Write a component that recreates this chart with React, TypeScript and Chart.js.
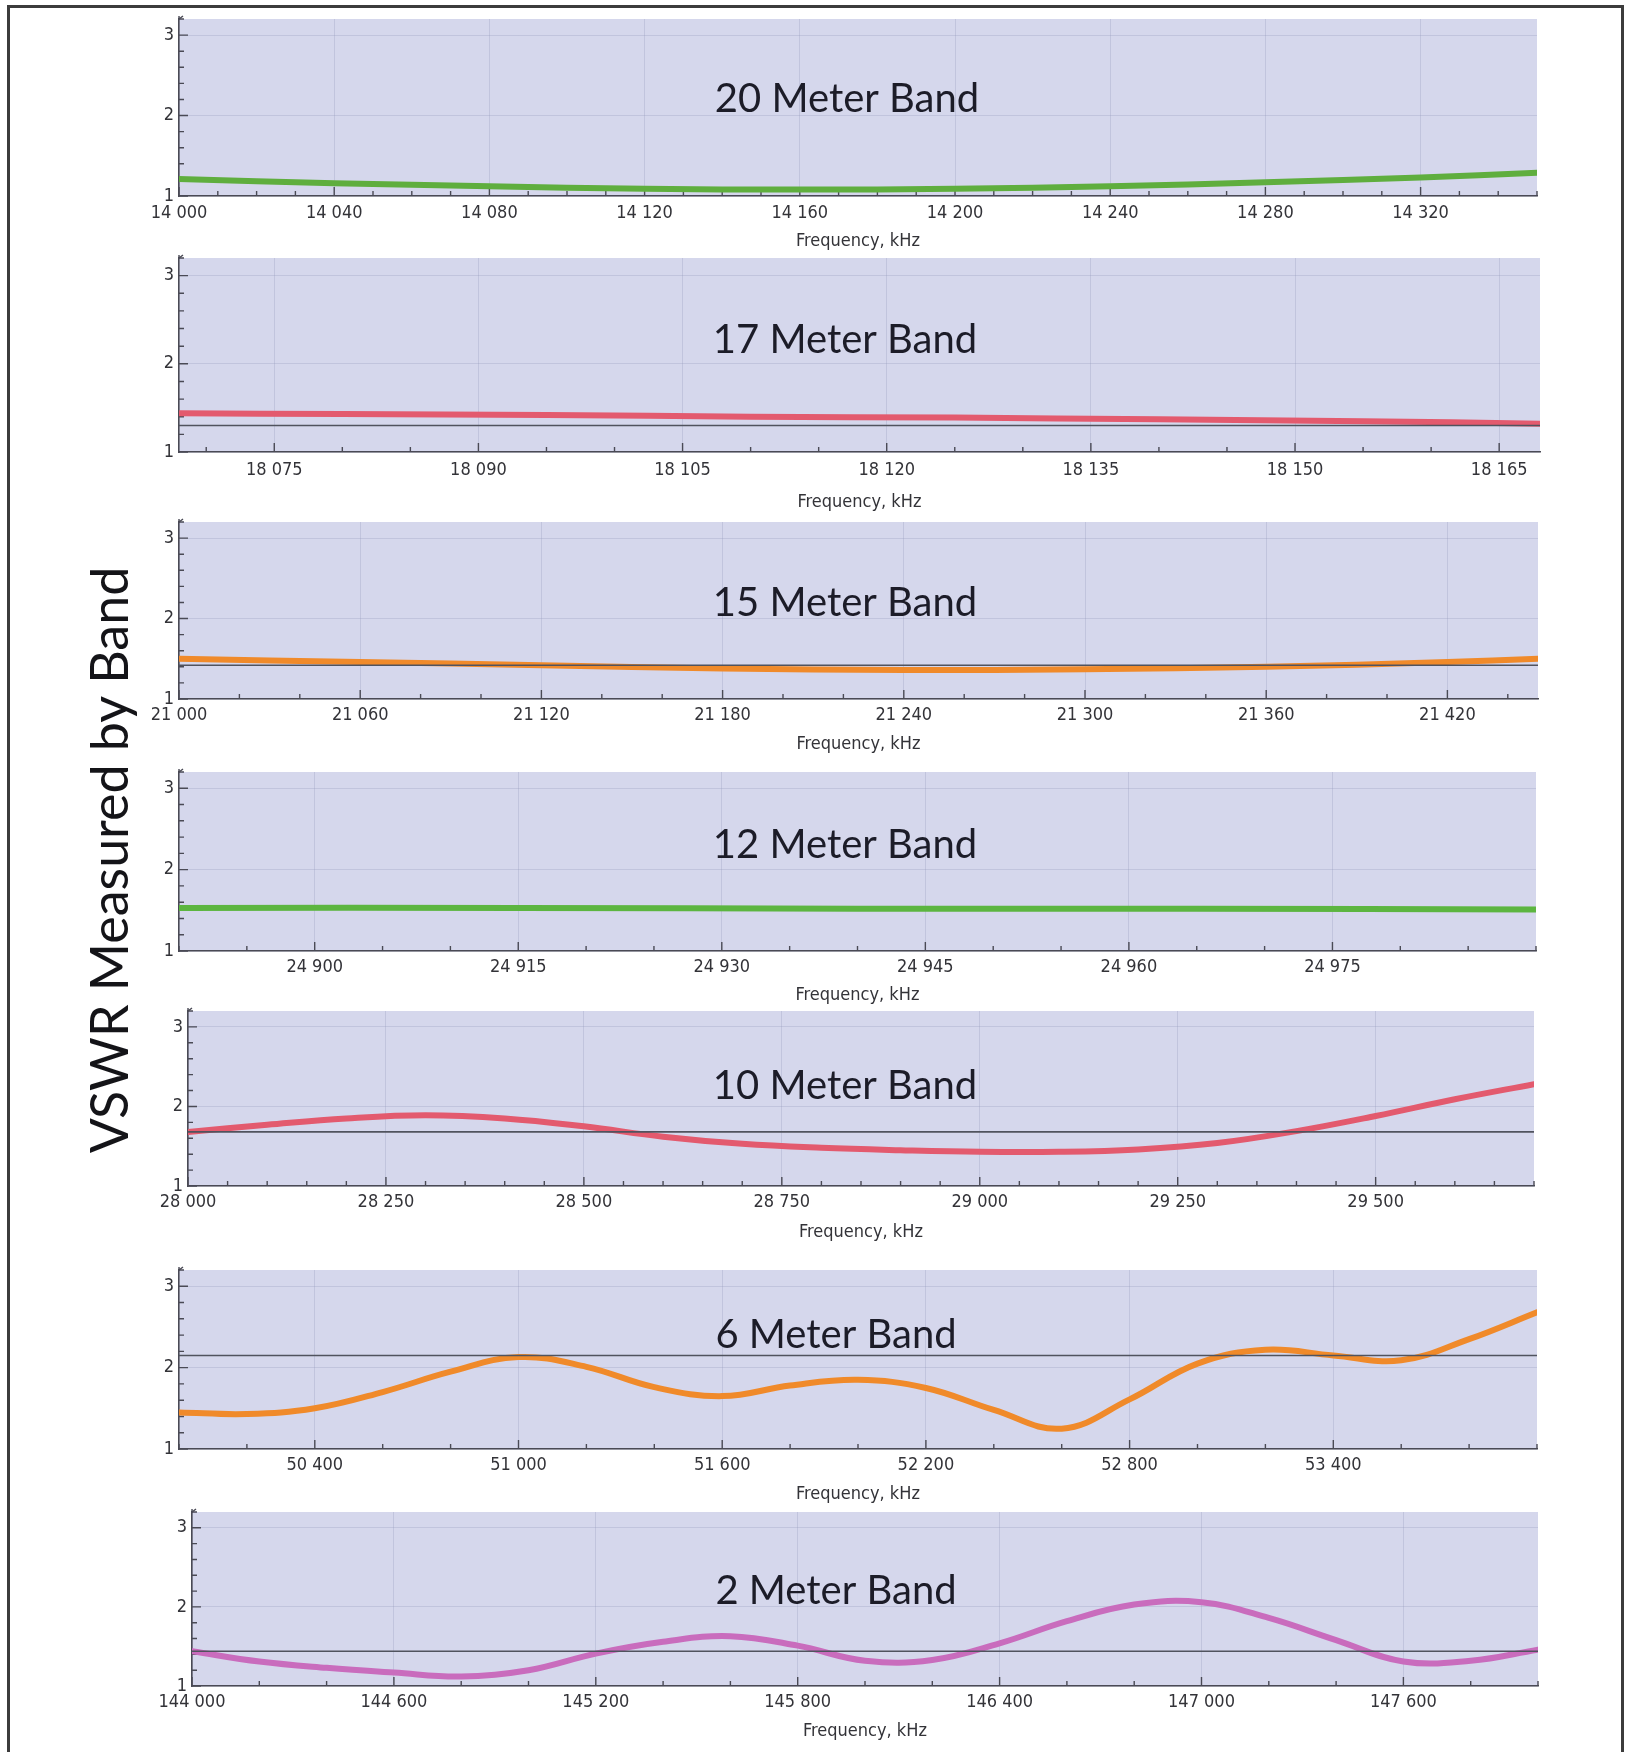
import React, { useEffect, useRef } from "react";
import { Chart, registerables } from "chart.js";

Chart.register(...registerables);

// ---------------- DATA ----------------
const BAND_TITLES = [
  "20 Meter Band",
  "17 Meter Band",
  "15 Meter Band",
  "12 Meter Band",
  "10 Meter Band",
  "6 Meter Band",
  "2 Meter Band",
];

const FREQ_20M = [14000, 14040, 14080, 14120, 14160, 14200, 14240, 14280, 14320, 14350];
const VSWR_20M = [1.21, 1.16, 1.12, 1.09, 1.08, 1.09, 1.12, 1.17, 1.23, 1.29];
const XTICKS_20M = [14000, 14040, 14080, 14120, 14160, 14200, 14240, 14280, 14320];

const FREQ_17M = [18068, 18080, 18095, 18110, 18125, 18140, 18155, 18168];
const VSWR_17M = [1.44, 1.43, 1.42, 1.4, 1.39, 1.37, 1.35, 1.32];
const XTICKS_17M = [18075, 18090, 18105, 18120, 18135, 18150, 18165];

const FREQ_15M = [21000, 21060, 21120, 21180, 21240, 21300, 21360, 21420, 21450];
const VSWR_15M = [1.5, 1.46, 1.42, 1.38, 1.36, 1.37, 1.4, 1.46, 1.5];
const XTICKS_15M = [21000, 21060, 21120, 21180, 21240, 21300, 21360, 21420];

const FREQ_12M = [24890, 24915, 24940, 24965, 24990];
const VSWR_12M = [1.53, 1.53, 1.52, 1.52, 1.51];
const XTICKS_12M = [24900, 24915, 24930, 24945, 24960, 24975];

const FREQ_10M = [28000, 28100, 28200, 28300, 28400, 28500, 28600, 28700, 28800, 28900, 29000, 29100, 29200, 29300, 29400, 29500, 29600, 29700];
const VSWR_10M = [1.68, 1.77, 1.85, 1.89, 1.85, 1.75, 1.62, 1.53, 1.48, 1.45, 1.43, 1.43, 1.46, 1.54, 1.69, 1.88, 2.09, 2.28];
const XTICKS_10M = [28000, 28250, 28500, 28750, 29000, 29250, 29500];

const FREQ_6M = [50000, 50200, 50400, 50600, 50800, 51000, 51200, 51400, 51600, 51800, 52000, 52200, 52400, 52600, 52800, 53000, 53200, 53400, 53600, 53800, 54000];
const VSWR_6M = [1.45, 1.43, 1.5, 1.7, 1.95, 2.13, 2.01, 1.76, 1.65, 1.78, 1.85, 1.75, 1.48, 1.25, 1.61, 2.05, 2.22, 2.15, 2.09, 2.35, 2.68];
const XTICKS_6M = [50400, 51000, 51600, 52200, 52800, 53400];

const FREQ_2M = [144000, 144200, 144400, 144600, 144800, 145000, 145200, 145400, 145600, 145800, 146000, 146200, 146400, 146600, 146800, 147000, 147200, 147400, 147600, 147800, 148000];
const VSWR_2M = [1.44, 1.31, 1.23, 1.17, 1.12, 1.2, 1.41, 1.56, 1.63, 1.51, 1.32, 1.33, 1.54, 1.82, 2.03, 2.06, 1.86, 1.58, 1.31, 1.32, 1.46];
const XTICKS_2M = [144000, 144600, 145200, 145800, 146400, 147000, 147600];

const X_MIN = [14000, 18068, 21000, 24890, 28000, 50000, 144000];
const X_MAX = [14350, 18168, 21450, 24990, 29700, 54000, 148000];
const MINOR_STEP = [10, 5, 20, 5, 50, 200, 200];
const REF_LEVEL: (number | null)[] = [null, 1.3, 1.42, null, 1.68, 2.15, 1.44];

const Y_TICKS = [1, 2, 3];
const Y_MIN = 1;
const Y_MAX = 3.2;
const Y_MINOR_STEP = 0.2;

const FREQS = [FREQ_20M, FREQ_17M, FREQ_15M, FREQ_12M, FREQ_10M, FREQ_6M, FREQ_2M];
const VSWRS = [VSWR_20M, VSWR_17M, VSWR_15M, VSWR_12M, VSWR_10M, VSWR_6M, VSWR_2M];
const XTICKS = [XTICKS_20M, XTICKS_17M, XTICKS_15M, XTICKS_12M, XTICKS_10M, XTICKS_6M, XTICKS_2M];

// ---------------- STYLE / LAYOUT ----------------
const COLORS = ["#5fae3e", "#e35a6e", "#f08a2a", "#5cb540", "#e35a6e", "#f08a2a", "#c96cbd"];

const PLOT_LEFT = [179, 179, 179, 179, 188, 179, 192];
const PLOT_RIGHT = [1537, 1540, 1538, 1536, 1534, 1537, 1538];
const PLOT_TOP = [19, 258, 522, 772, 1011, 1270, 1512];
const PLOT_BOTTOM = [196, 452, 699, 951, 1186, 1449, 1686];
const TITLE_X = [847, 845, 845, 845, 845, 836, 836];
const TITLE_Y = [99, 340, 603, 845, 1086, 1335, 1591];
const XTITLE_OFFSET = [45, 50, 45, 44, 46, 45, 45];
const XLABEL_PAD = [7, 8, 6, 6, 6, 6, 6];

const PAGE_W = 1630;
const PAD_T = 20;
const XH = 72;
const YW = 40;
const BG = "#d5d7ec";
const AXIS = "#4a4a55";
const GRID = "rgba(150,152,185,0.3)";
const TEXT = "#333338";
const SMALL_FONT = "'DejaVu Sans Condensed', 'DejaVu Sans', sans-serif";

function fmt(v: number) {
  return Math.round(v)
    .toString()
    .replace(/\B(?=(\d{3})+(?!\d))/g, " ");
}

function Panel({ i }: { i: number }) {
  const ref = useRef<HTMLCanvasElement | null>(null);
  const canvasTop = PLOT_TOP[i] - PAD_T;
  const canvasH = PLOT_BOTTOM[i] - PLOT_TOP[i] + PAD_T + XH;

  useEffect(() => {
    const canvas = ref.current;
    if (!canvas) return;
    const xMin = X_MIN[i];
    const xMax = X_MAX[i];
    const curve = FREQS[i].map((x, k) => ({ x, y: VSWRS[i][k] }));
    const datasets: any[] = [];
    const refLevel = REF_LEVEL[i];
    if (refLevel !== null) {
      datasets.push({
        data: [
          { x: xMin, y: refLevel },
          { x: xMax, y: refLevel },
        ],
        borderColor: "#50535e",
        borderWidth: 1.6,
        pointRadius: 0,
        tension: 0,
      });
    }
    datasets.push({
      data: curve,
      borderColor: COLORS[i],
      borderWidth: 6,
      pointRadius: 0,
      tension: 0.4,
      borderCapStyle: "round",
      borderJoinStyle: "round",
    });

    const decor = {
      id: "decor" + i,
      beforeDraw(chart: any) {
        const { ctx, chartArea: a } = chart;
        ctx.save();
        ctx.fillStyle = BG;
        ctx.fillRect(a.left, a.top, a.right - a.left, a.bottom - a.top);
        ctx.restore();
      },
      beforeDatasetsDraw(chart: any) {
        const { ctx, chartArea: a } = chart;
        const xs = chart.scales.x;
        const ys = chart.scales.y;
        ctx.save();
        ctx.strokeStyle = AXIS;
        ctx.lineWidth = 1.4;
        const majors = XTICKS[i];
        const step = MINOR_STEP[i];
        const base = majors[0];
        const start = base - Math.floor((base - xMin) / step) * step;
        ctx.beginPath();
        for (let v = start; v <= xMax + 1e-6; v += step) {
          const px = xs.getPixelForValue(v);
          const isMajor = majors.some((m) => Math.abs(m - v) < 1e-6);
          const len = isMajor ? 9 : 5;
          ctx.moveTo(px, a.bottom);
          ctx.lineTo(px, a.bottom - len);
        }
        for (let v = Y_MIN; v <= Y_MAX + 1e-6; v += Y_MINOR_STEP) {
          const py = ys.getPixelForValue(v);
          const isMajor = Y_TICKS.some((m) => Math.abs(m - v) < 1e-6);
          const len = isMajor ? 9 : 5;
          ctx.moveTo(a.left, py);
          ctx.lineTo(a.left + len, py);
        }
        ctx.stroke();
        ctx.beginPath();
        ctx.moveTo(a.left, a.top - 3);
        ctx.lineTo(a.left, a.top);
        ctx.lineTo(a.left + 4, a.top - 3);
        ctx.stroke();
        ctx.fillStyle = "#1c1c28";
        ctx.font = "40px Lato, 'Open Sans', sans-serif";
        ctx.textAlign = "center";
        ctx.textBaseline = "middle";
        ctx.fillText(BAND_TITLES[i], TITLE_X[i], TITLE_Y[i] - canvasTop);
        ctx.restore();
      },
    };

    const chart = new Chart(canvas, {
      type: "line",
      data: { datasets },
      plugins: [decor],
      options: {
        responsive: false,
        animation: false,
        devicePixelRatio: 1,
        events: [],
        layout: {
          padding: {
            left: PLOT_LEFT[i] - YW,
            right: PAGE_W - PLOT_RIGHT[i],
            top: PAD_T,
            bottom: 0,
          },
        },
        plugins: {
          legend: { display: false },
          tooltip: { enabled: false },
        },
        scales: {
          x: {
            type: "linear",
            min: xMin,
            max: xMax,
            afterBuildTicks: (s: any) => {
              s.ticks = XTICKS[i].map((v) => ({ value: v }));
            },
            afterFit: (s: any) => {
              s.height = XH;
            },
            grid: { color: GRID, lineWidth: 1, drawTicks: false },
            border: { display: true, color: AXIS, width: 1.6 },
            ticks: {
              autoSkip: false,
              maxRotation: 0,
              minRotation: 0,
              padding: XLABEL_PAD[i],
              color: TEXT,
              font: { family: SMALL_FONT, size: 18 },
              callback: (v: any) => fmt(Number(v)),
            },
            title: {
              display: true,
              text: "Frequency, kHz",
              color: TEXT,
              font: { family: SMALL_FONT, size: 18 },
              padding: { top: 0, bottom: XH - 10.8 - XTITLE_OFFSET[i] },
            },
          },
          y: {
            type: "linear",
            min: Y_MIN,
            max: Y_MAX,
            afterBuildTicks: (s: any) => {
              s.ticks = Y_TICKS.map((v) => ({ value: v }));
            },
            afterFit: (s: any) => {
              s.width = YW;
            },
            grid: { color: GRID, lineWidth: 1, drawTicks: false },
            border: { display: true, color: AXIS, width: 1.6 },
            ticks: {
              padding: 5,
              color: TEXT,
              font: { family: SMALL_FONT, size: 18 },
              callback: (v: any) => String(v),
            },
          },
        },
      } as any,
    });
    return () => chart.destroy();
  }, [i]);

  return (
    <canvas
      ref={ref}
      width={PAGE_W}
      height={canvasH}
      style={{
        position: "absolute",
        left: 0,
        top: canvasTop,
        width: PAGE_W,
        height: canvasH,
      }}
    />
  );
}

export default function App() {
  return (
    <div
      style={{
        position: "absolute",
        left: 0,
        top: 0,
        width: PAGE_W,
        height: 1752,
        overflow: "hidden",
        background: "#ffffff",
      }}
    >
      <div
        style={{
          position: "absolute",
          left: 7,
          top: 5,
          width: 1617,
          height: 1800,
          border: "3px solid #3c3c3c",
          boxSizing: "border-box",
        }}
      />
      <div
        style={{
          position: "absolute",
          left: 108,
          top: 860,
          transform: "translate(-50%, -50%) rotate(-90deg)",
          whiteSpace: "nowrap",
          fontFamily: "Lato, 'Open Sans', sans-serif",
          fontSize: 52,
          color: "#141418",
          lineHeight: 1,
        }}
      >
        VSWR Measured by Band
      </div>
      {BAND_TITLES.map((_, i) => (
        <Panel key={i} i={i} />
      ))}
    </div>
  );
}
